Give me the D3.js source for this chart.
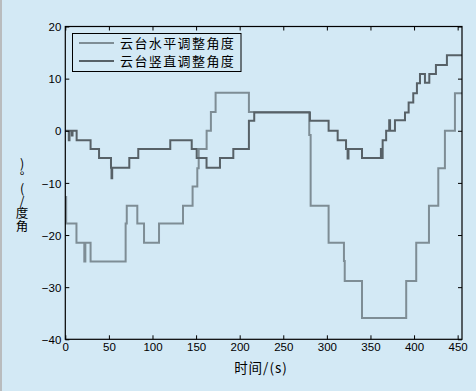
<!DOCTYPE html>
<html><head><meta charset="utf-8">
<script src="https://cdn.jsdelivr.net/npm/d3@7"></script>
<style>
html,body{margin:0;padding:0;background:#d3e9f5;}
svg{display:block;}
text{font-family:"Liberation Sans",Arial,sans-serif;}
.cjk{font-family:"Noto Sans CJK SC","Liberation Sans",sans-serif;}
</style></head>
<body>
<script>
// ---- data ----
const seriesNames = ["云台水平调整角度", "云台竖直调整角度"];
const horizTime  = [0, 1, 12.8, 21.8, 23.0, 29, 69.2, 70.5, 82.6, 90.3, 107.5, 135, 146, 151.4, 153, 162.1, 167, 172.4, 210.6, 279.8, 281.4, 302, 319.6, 320.5, 340.3, 391, 402.5, 417.1, 427.8, 435.4, 446.9, 455];
const horizAngle = [-12.7, -17.8, -21.5, -25.1, -21.5, -25.1, -17.8, -14.4, -17.8, -21.5, -17.8, -14.4, -10.7, -7.2, -3.5, 0, 3.6, 7.3, 3.6, -0.8, -14.4, -21.5, -25, -28.8, -35.9, -28.8, -21.5, -14.4, -7.2, 0, 7.2, 7.2];
const vertTime  = [0, 4, 4.8, 7.5, 8.3, 13, 29, 38.7, 52.4, 53, 53.8, 73.4, 83.7, 120.4, 145, 150.7, 162, 177.4, 192.7, 210.6, 216.7, 280.6, 302, 312.4, 322, 323.8, 324.8, 340.3, 362, 362.8, 364, 368, 371.5, 372.5, 378.1, 389.6, 393.8, 399.1, 403.3, 406.8, 412.5, 417.5, 425.1, 437.7, 455];
const vertAngle = [0, -1.8, 0, -0.9, 0, -1.8, -3.5, -5.2, -7.1, -9.1, -7.1, -5.2, -3.5, -1.8, -3.5, -5.2, -7.1, -5.2, -3.5, 1.9, 3.5, 1.9, 0, -1.8, -3.5, -5.3, -3.5, -5.2, -3.5, -5.2, -1.8, 0, 2, 0, 2, 3.5, 5.4, 7.2, 9.1, 10.9, 9.2, 10.9, 12.6, 14.5, 14.5];
const xTicks = [0, 50, 100, 150, 200, 250, 300, 350, 400, 450];
const yTicks = [-40, -30, -20, -10, 0, 10, 20];
const xLabel = "时间/(s)";
const yLabel = ")°(/度角";
const colors = ["#7e8d95", "#576167"];

const W = 476, H = 391;
const L = 65.3, R = 462, T = 26.5, B = 339.3;
const svg = d3.select("body").append("svg").attr("width", W).attr("height", H);
svg.append("rect").attr("width", W).attr("height", H).attr("fill", "#d3e9f5");
svg.append("rect").attr("x", 0).attr("y", 0).attr("width", 2).attr("height", H).attr("fill", "#b9bcbe");

const x = d3.scaleLinear().domain([0, 455]).range([L, R]);
const y = d3.scaleLinear().domain([-40, 20]).range([B, T]);

const line = d3.line().x(d => x(d[0])).y(d => y(d[1])).curve(d3.curveStepAfter);
const hData = horizTime.map((t, i) => [t, horizAngle[i]]);
const vData = vertTime.map((t, i) => [t, vertAngle[i]]);

svg.append("path").datum(hData).attr("d", line).attr("fill", "none")
  .attr("stroke", colors[0]).attr("stroke-width", 2);
svg.append("path").datum(vData).attr("d", line).attr("fill", "none")
  .attr("stroke", colors[1]).attr("stroke-width", 2);

// axes
const fmt = d3.format("d");
const gb = svg.append("g").attr("transform", `translate(0,${B})`)
  .call(d3.axisBottom(x).tickValues(xTicks).tickFormat(fmt).tickSize(-4).tickPadding(4));
const gt = svg.append("g").attr("transform", `translate(0,${T})`)
  .call(d3.axisTop(x).tickValues(xTicks).tickFormat("").tickSize(-4));
const gl = svg.append("g").attr("transform", `translate(${L},0)`)
  .call(d3.axisLeft(y).tickValues(yTicks).tickFormat(fmt).tickSize(-4).tickPadding(4));
const gr = svg.append("g").attr("transform", `translate(${R},0)`)
  .call(d3.axisRight(y).tickValues(yTicks).tickFormat("").tickSize(-4));
[gb, gt, gl, gr].forEach(g => {
  g.select(".domain").remove();
  g.selectAll("line").attr("stroke", "#000");
  g.selectAll("text").attr("fill", "#000").style("font-size", "11.5px")
    .style("font-family", "'Liberation Sans',Arial,sans-serif");
});
gl.selectAll("text").attr("dy", "0.36em");
svg.append("rect").attr("x", L).attr("y", T).attr("width", R - L).attr("height", B - T)
  .attr("fill", "none").attr("stroke", "#000").attr("stroke-width", 1.2);

// legend
const lg = svg.append("g");
lg.append("rect").attr("x", 72.5).attr("y", 33.5).attr("width", 168.5).attr("height", 38)
  .attr("fill", "none").attr("stroke", "#000").attr("stroke-width", 1);
seriesNames.forEach((n, i) => {
  const yy = 43 + i * 18;
  lg.append("line").attr("x1", 79).attr("x2", 114).attr("y1", yy).attr("y2", yy)
    .attr("stroke", colors[i]).attr("stroke-width", 2);
  lg.append("text").attr("class", "cjk").attr("x", 120).attr("y", yy + 4.5)
    .style("font-size", "13px").style("letter-spacing", "1.4px").attr("fill", "#000").text(n);
});

// x label
svg.append("text").attr("class", "cjk").attr("x", 261).attr("y", 372.5)
  .attr("text-anchor", "middle").style("font-size", "13.5px").style("letter-spacing", "1px")
  .attr("fill", "#000").text(xLabel);

// y label: a single vertical text, characters upright as in the reference
svg.append("text").attr("class", "cjk").attr("x", 22).attr("y", 157)
  .style("writing-mode", "vertical-rl").style("text-orientation", "upright")
  .style("font-size", "12.5px").attr("fill", "#000").text(yLabel);
</script>
</body></html>
